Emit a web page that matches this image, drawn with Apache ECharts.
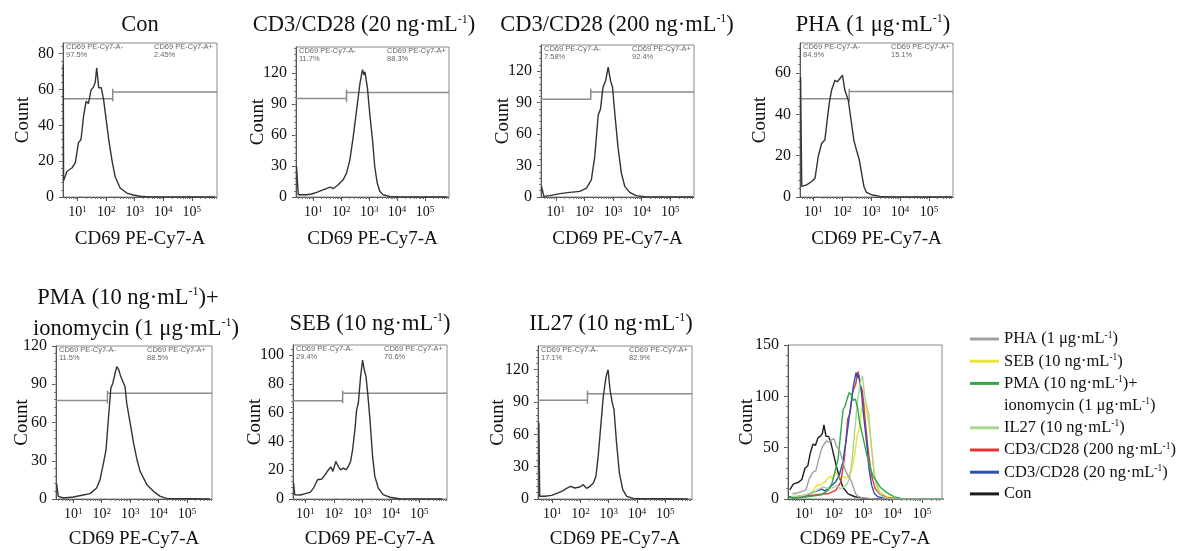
<!DOCTYPE html>
<html><head><meta charset="utf-8">
<script src="https://cdn.jsdelivr.net/npm/echarts@6/dist/echarts.min.js"></script>
<style>html,body{margin:0;padding:0;background:#fff}#c{width:1181px;height:551px}</style>
</head><body><div id="c"></div>
<script>
// ---------- data (x = log10 of CD69 PE-Cy7-A intensity, y = count) ----------
const con = [[0.5,74],[0.51,9],[0.63,14.4],[0.8,16.2],[0.92,19],[1.03,30.2],[1.12,32.1],[1.21,45.1],[1.3,53.5],[1.38,52.2],[1.47,59.7],[1.56,61.5],[1.62,64.2],[1.67,72.2],[1.74,61],[1.83,61],[1.91,54.5],[2.0,43.3],[2.09,32.1],[2.2,20.9],[2.31,11.6],[2.49,5],[2.72,2.2],[2.95,1.1],[3.19,0.4],[3.53,0],[5.8,0]];
const cd3_20 = [[0.40,29.5],[0.46,2.2],[0.76,2.2],[0.94,2.9],[1.12,4.5],[1.3,6.4],[1.42,7.7],[1.6,9.6],[1.71,8],[1.89,11.9],[2.07,16.7],[2.19,23.1],[2.31,35.9],[2.43,58.4],[2.55,84],[2.67,109.7],[2.76,123.2],[2.81,118],[2.85,121],[2.94,105],[3.02,80.9],[3.12,55.2],[3.2,29.5],[3.29,13.5],[3.38,5.5],[3.5,2.2],[3.74,0.6],[4.1,0],[5.8,0]];
const cd3_200 = [[0.5,10.1],[0.58,0.6],[0.79,1.3],[1.14,3.2],[1.49,4.4],[1.84,5.4],[2.07,8.5],[2.24,16.4],[2.36,38.5],[2.48,78],[2.56,84],[2.65,105],[2.74,111],[2.83,124],[2.91,111],[2.98,105],[3.06,80],[3.17,48],[3.29,22.7],[3.41,10.1],[3.58,4.4],[3.81,1.3],[4.16,0],[5.8,0]];
const pha = [[0.56,58],[0.6,5.1],[0.77,5.9],[0.94,7.5],[1.06,9.1],[1.17,19.6],[1.29,26],[1.4,27.6],[1.48,37.2],[1.55,45.2],[1.63,51.6],[1.75,56.5],[1.83,55.7],[1.92,57.3],[2.01,58.9],[2.09,51.6],[2.21,46.8],[2.29,38.8],[2.4,27.6],[2.49,22.8],[2.59,18],[2.67,11.5],[2.75,5.1],[2.84,2.2],[3.01,1.1],[3.3,0.3],[3.64,0],[5.8,0]];
const pma = [[0.41,12],[0.47,2],[0.65,0.8],[1.0,1.6],[1.35,3.1],[1.59,4.2],[1.82,8.6],[1.94,15.1],[2.06,28.2],[2.15,38.6],[2.24,64.7],[2.32,86.9],[2.39,90.8],[2.47,98.6],[2.53,103.8],[2.6,101.2],[2.67,96],[2.74,97.3],[2.82,88],[2.88,75],[3.0,59.5],[3.12,43.8],[3.24,30.8],[3.35,21.7],[3.59,11.2],[3.82,6],[4.06,2.1],[4.29,0.5],[5.8,0]];
const seb = [[0.59,11],[0.63,3],[0.83,2.8],[1.0,3.7],[1.17,4.6],[1.29,7.6],[1.43,13.4],[1.58,13.9],[1.7,16.9],[1.81,20.3],[1.9,22.2],[1.97,19.2],[2.07,26.1],[2.16,22.6],[2.24,20.3],[2.34,21.5],[2.43,20.3],[2.51,22.6],[2.59,26.1],[2.66,34.2],[2.74,48],[2.8,61.9],[2.86,66.5],[2.94,85],[3.01,96.5],[3.07,89.6],[3.13,85],[3.19,73.4],[3.27,55],[3.36,29.6],[3.44,15.7],[3.56,7.6],[3.73,3],[3.97,1.2],[4.31,0.2],[5.8,0]];
const il27 = [[0.53,71],[0.56,2.5],[0.74,2.5],[0.98,3.4],[1.21,5.6],[1.39,7.7],[1.53,10.2],[1.65,11.8],[1.8,10.2],[1.98,11.1],[2.1,13.3],[2.22,9.9],[2.34,11.8],[2.46,14.8],[2.55,21],[2.63,39.6],[2.72,67.4],[2.81,95.3],[2.91,113.8],[2.98,120],[3.05,101.4],[3.13,89],[3.19,82.9],[3.28,52],[3.38,24.1],[3.5,8.7],[3.64,2.5],[3.88,0.6],[5.8,0]];

const panelTitles = [['Con'],['CD3/CD28 (20 ng·mL^-1)'],['CD3/CD28 (200 ng·mL^-1)'],['PHA (1 μg·mL^-1)'],['PMA (10 ng·mL^-1)+','ionomycin (1 μg·mL^-1)'],['SEB (10 ng·mL^-1)'],['IL27 (10 ng·mL^-1)']];
const negPct = ['97.5%','11.7%','7.58%','84.9%','11.5%','29.4%','17.1%'];
const posPct = ['2.45%','88.3%','92.4%','15.1%','88.5%','70.6%','82.9%'];
const gateX = [2.23,2.19,2.22,2.24,2.2,2.31,2.25];
const gateLeftY = [54.8,95.3,93.2,47.5,77.2,68.3,91.6];
const gateRightY = [58.7,101.1,100.1,51,83,73.4,97.7];
const gateTickLo = [53.5,92,92.2,46,75,66.5,88.5];
const gateTickHi = [60.4,104,103.3,52.4,85,75.3,100.8];

const xTickVals = [1,2,3,4,5];
const yTicks = [[0,20,40,60,80],[0,30,60,90,120],[0,30,60,90,120],[0,20,40,60],[0,30,60,90,120],[0,20,40,60,80,100],[0,30,60,90,120],[0,50,100,150]];
const xRanges = [[0.49,5.88],[0.38,5.86],[0.48,5.83],[0.54,5.83],[0.39,5.88],[0.57,5.97],[0.50,5.95],[0.45,5.68]];
const yMaxes = [86,145,145,74.5,120,107,142,150];

const legendNames = ['PHA (1 μg·mL^-1)','SEB (10 ng·mL^-1)','PMA (10 ng·mL^-1)+','ionomycin (1 μg·mL^-1)','IL27 (10 ng·mL^-1)','CD3/CD28 (200 ng·mL^-1)','CD3/CD28 (20 ng·mL^-1)','Con'];
const legendColors = ['#a0a0a0','#e8e43a','#2fa84a','rgba(0,0,0,0)','#a9d68c','#ea3434','#2d4fb0','#1c1c1c'];
const legendData = [pha, seb, pma, null, il27, cd3_200, cd3_20, con];
const overlayOrder = [7,0,5,6,4,1,2];

// ---------- layout ----------
const gridBoxes = [[63,43,154,154],[296,47,153,150],[541,45,153,152],[800,43,153,154],[56,346,156,153],[293,345,154,154],[538,346,154,153],[788,345,154,154]];
const titlePos = [[[140,25]],[[364,25.5]],[[617,25]],[[873,25]],[[128,298],[136,329]],[[370,324]],[[611,324]]];
const xNameGaps = [33,33,33,33,31,31,31,31];
const yNameGaps = [30,28,28,30,24,28,30,31];
const panelHist = [con, cd3_20, cd3_200, pha, pma, seb, il27];

const serif = "'Liberation Serif','Times New Roman',serif";
const sans = "'Liberation Sans',Arial,sans-serif";
function toRich(str, base) {
  return str.split('^-1').map(p => p ? '{' + base + '|' + p + '}' : '').join('{s|-1}');
}

const grids = [], xAxes = [], yAxes = [], series = [], graphics = [];
for (let i = 0; i < 8; i++) {
  const [l, t, w, h] = gridBoxes[i];
  grids.push({left: l, top: t, width: w, height: h, show: true, borderColor: '#8a8a8a', borderWidth: 1});
  const [xmin, xmax] = xRanges[i];
  const minorX = [];
  for (let n = 0; n <= 6; n++) for (let k = 2; k <= 9; k++) { const v = n + Math.log10(k); if (v > xmin && v < xmax) minorX.push(v); }
  xAxes.push({type: 'value', gridIndex: i, min: xmin, max: xmax, position: 'bottom',
    axisLine: {show: true, onZero: false, lineStyle: {color: '#555', width: 1}},
    axisTick: {show: true, customValues: xTickVals, length: 4, lineStyle: {color: '#555'}},
    axisLabel: {customValues: xTickVals, formatter: v => '{b|10}{s|' + Math.round(v) + '}', margin: 8,
      rich: {b: {fontFamily: serif, fontSize: 14, lineHeight: 14, color: '#111'}, s: {fontFamily: serif, fontSize: 9, lineHeight: 10, verticalAlign: 'top', color: '#111'}}},
    splitLine: {show: false},
    name: 'CD69 PE-Cy7-A', nameLocation: 'middle', nameGap: xNameGaps[i], nameMoveOverlap: false,
    nameTextStyle: {fontFamily: serif, fontSize: 19, color: '#111'}});
  xAxes.push({type: 'value', gridIndex: i, min: xmin, max: xmax, position: 'bottom',
    axisLine: {show: false, onZero: false}, axisTick: {show: true, customValues: minorX, length: 2, lineStyle: {color: '#777'}},
    axisLabel: {show: false}, splitLine: {show: false}});
  const yt = yTicks[i];
  const step = (yt[1] - yt[0]) / 5;
  const minorY = [];
  for (let v = step; v < yMaxes[i]; v += step) minorY.push(v);
  yAxes.push({type: 'value', gridIndex: i, min: 0, max: yMaxes[i], position: 'left',
    axisLine: {show: true, onZero: false, lineStyle: {color: '#555', width: 1}},
    axisTick: {show: true, customValues: yt, length: 4, lineStyle: {color: '#555'}},
    axisLabel: {customValues: yt, margin: 9, fontFamily: serif, fontSize: 16, color: '#111'},
    splitLine: {show: false},
    name: 'Count', nameLocation: 'middle', nameGap: yNameGaps[i], nameMoveOverlap: false,
    nameTextStyle: {fontFamily: serif, fontSize: 19, color: '#111'}});
  yAxes.push({type: 'value', gridIndex: i, min: 0, max: yMaxes[i], position: 'left',
    axisLine: {show: false, onZero: false}, axisTick: {show: true, customValues: minorY, length: 2, lineStyle: {color: '#777'}},
    axisLabel: {show: false}, splitLine: {show: false}});

  if (i < 7) {
    series.push({type: 'line', xAxisIndex: 2 * i, yAxisIndex: 2 * i, data: panelHist[i], symbol: 'none', showSymbol: false,
      lineStyle: {color: '#333', width: 1.4}, silent: true, z: 3});
    const g = [[xmin, gateLeftY[i]], [gateX[i], gateLeftY[i]], [gateX[i], gateTickLo[i]], [gateX[i], gateTickHi[i]], [gateX[i], gateRightY[i]], [xmax, gateRightY[i]]];
    series.push({type: 'line', xAxisIndex: 2 * i, yAxisIndex: 2 * i, data: g, symbol: 'none', showSymbol: false,
      lineStyle: {color: '#8c8c8c', width: 1.5}, silent: true, z: 2});
    panelTitles[i].forEach((line, j) => {
      const [tx, ty] = titlePos[i][j];
      graphics.push({type: 'text', x: tx, y: ty, silent: true, style: {text: toRich(line, 't'), align: 'center', verticalAlign: 'middle', fill: '#111',
        rich: {t: {fontFamily: serif, fontSize: 22.5, lineHeight: 24, fill: '#111'}, s: {fontFamily: serif, fontSize: 12, lineHeight: 13, verticalAlign: 'top', fill: '#111'}}}});
    });
    const ann = [[l + 3, t + 4, 'CD69 PE-Cy7-A-'], [l + 3, t + 12, negPct[i]], [l + 91, t + 4, 'CD69 PE-Cy7-A+'], [l + 91, t + 12, posPct[i]]];
    ann.forEach(a => graphics.push({type: 'text', x: a[0], y: a[1], silent: true,
      style: {text: a[2], fontFamily: sans, fontSize: 7.5, fill: '#666', align: 'left', verticalAlign: 'middle'}}));
  }
}
legendNames.forEach((name, k) => {
  series.push({type: 'line', name: name, xAxisIndex: 14, yAxisIndex: 14,
    data: legendData[k] ? legendData[k].slice(1) : [], symbol: 'none', showSymbol: false,
    color: legendColors[k], lineStyle: {color: legendColors[k], width: 1.4}, silent: true, z: 3 + overlayOrder[k]});
});

const option = {
  animation: false,
  backgroundColor: '#fff',
  grid: grids, xAxis: xAxes, yAxis: yAxes, series: series,
  legend: {orient: 'vertical', left: 965, top: 325, itemWidth: 29, itemHeight: 3, itemGap: 4.7, icon: 'rect',
    selectedMode: false, data: legendNames,
    formatter: n => toRich(n, 'a'),
    textStyle: {rich: {a: {fontFamily: serif, fontSize: 16.5, lineHeight: 18, color: '#111'}, s: {fontFamily: serif, fontSize: 9.5, lineHeight: 10, verticalAlign: 'top', color: '#111'}}}},
  graphic: graphics
};
const chart = echarts.init(document.getElementById('c'));
chart.setOption(option);
</script></body></html>
